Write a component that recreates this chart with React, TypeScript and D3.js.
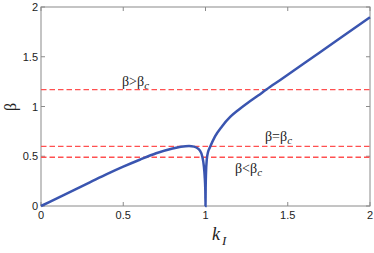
import React from "react";
import * as d3 from "d3";

const kValues = [0, 0.1, 0.2, 0.3, 0.4, 0.5, 0.6, 0.7, 0.8, 0.85, 0.9, 0.93, 0.95, 0.965, 0.98, 0.99, 0.995, 0.999, 1.0, 1.001, 1.003, 1.008, 1.015, 1.027, 1.058, 1.1, 1.15, 1.2, 1.26, 1.32, 1.37, 1.45, 1.6, 1.8, 2.0];
const betaValues = [0, 0.08, 0.16, 0.24, 0.32, 0.395, 0.465, 0.53, 0.578, 0.595, 0.603, 0.597, 0.582, 0.56, 0.5, 0.4, 0.3, 0.15, 0, 0.18, 0.33, 0.47, 0.54, 0.59, 0.7, 0.8, 0.895, 0.965, 1.04, 1.11, 1.17, 1.262, 1.435, 1.665, 1.896];
const thresholds = [1.17, 0.6, 0.49];
const xTicks = [0, 0.5, 1, 1.5, 2];
const yTicks = [0, 0.5, 1, 1.5, 2];

export default function App() {
  const W = 374, H = 253;
  const left = 41, right = 370, top = 7, bottom = 206;
  const x = d3.scaleLinear().domain([0, 2]).range([left, right]);
  const y = d3.scaleLinear().domain([0, 2]).range([bottom, top]);
  const pts = kValues.map((k, i) => [k, betaValues[i]] as [number, number]);
  const line = d3.line<[number, number]>().x(d => x(d[0])).y(d => y(d[1])).curve(d3.curveMonotoneX);
  const axisColor = "#8a8a8a";
  const tickFont = "Liberation Sans, Arial, sans-serif";
  const serif = "Liberation Serif, Times New Roman, serif";
  return (
    <svg width={W} height={H} style={{ position: "absolute", left: 0, top: 0, background: "#fff" }}>
      <rect x={left} y={top} width={right - left} height={bottom - top} fill="none" stroke={axisColor} strokeWidth={1} />
      {xTicks.map(t => (
        <g key={"x" + t}>
          <line x1={x(t)} x2={x(t)} y1={bottom} y2={bottom - 4} stroke={axisColor} />
          <line x1={x(t)} x2={x(t)} y1={top} y2={top + 4} stroke={axisColor} />
          <text x={x(t)} y={bottom + 13} textAnchor="middle" fontSize={11} fontFamily={tickFont} fill="#222">{t}</text>
        </g>
      ))}
      {yTicks.map(t => (
        <g key={"y" + t}>
          <line x1={left} x2={left + 4} y1={y(t)} y2={y(t)} stroke={axisColor} />
          <line x1={right} x2={right - 4} y1={y(t)} y2={y(t)} stroke={axisColor} />
          <text x={left - 3} y={y(t) + 4} textAnchor="end" fontSize={11} fontFamily={tickFont} fill="#222">{t}</text>
        </g>
      ))}
      {thresholds.map(b => (
        <line key={"h" + b} x1={left} x2={right} y1={y(b)} y2={y(b)} stroke="#ff5050" strokeWidth={1.3} strokeDasharray="5.5,3" />
      ))}
      <path d={line(pts) || ""} fill="none" stroke="#3a55b0" strokeWidth={2.5} />
      <text x={122} y={86} fontSize={14} fontFamily={serif} fill="#222">β&gt;β<tspan fontSize={11} fontStyle="italic" dy={3}>c</tspan></text>
      <text x={265} y={141} fontSize={14} fontFamily={serif} fill="#222">β=β<tspan fontSize={11} fontStyle="italic" dy={3}>c</tspan></text>
      <text x={235} y={173} fontSize={14} fontFamily={serif} fill="#222">β&lt;β<tspan fontSize={11} fontStyle="italic" dy={3}>c</tspan></text>
      <text transform={`translate(16,107) rotate(-90)`} textAnchor="middle" fontSize={16} fontFamily={serif} fill="#222">β</text>
      <text x={212} y={240} fontSize={18} fontStyle="italic" fontFamily={serif} fill="#222">k<tspan fontSize={13} dy={5} dx={2}>I</tspan></text>
    </svg>
  );
}
